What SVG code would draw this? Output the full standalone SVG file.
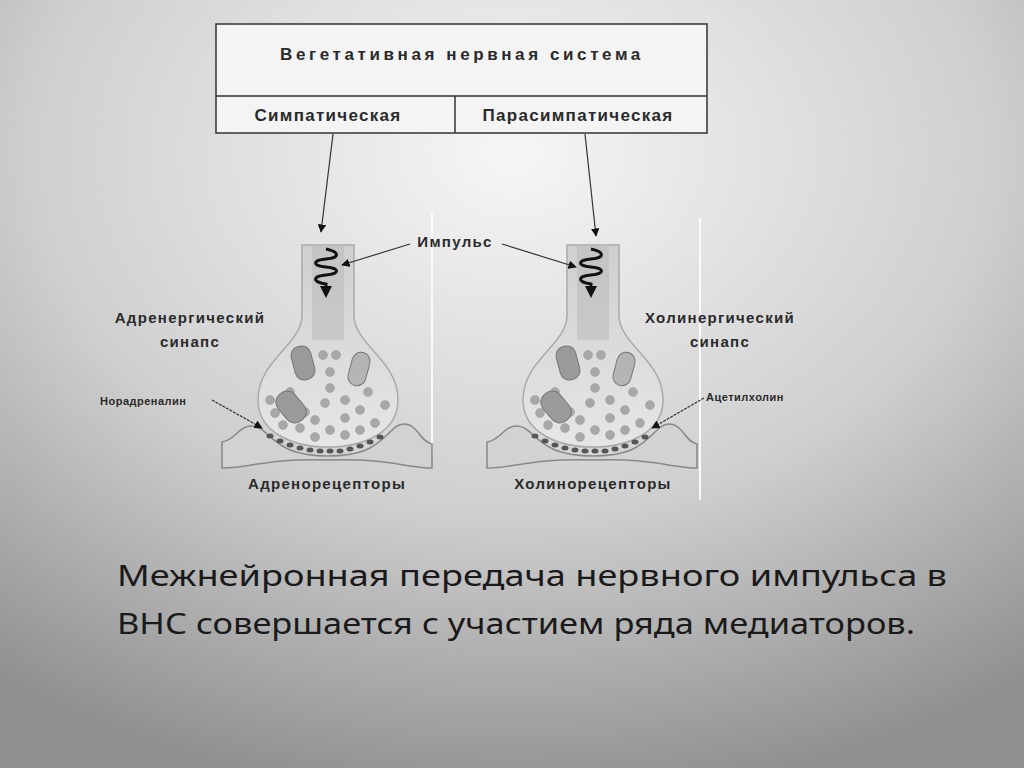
<svg xmlns="http://www.w3.org/2000/svg" xmlns:xlink="http://www.w3.org/1999/xlink" width="1024" height="768" viewBox="0 0 1024 768">
<defs>
<radialGradient id="bg" cx="0.5" cy="0.2" r="0.85">
<stop offset="0" stop-color="#f6f6f6"/><stop offset="0.55" stop-color="#cfcfcf"/><stop offset="1" stop-color="#8f8f8f"/>
</radialGradient>
<linearGradient id="bulb" x1="0" y1="0" x2="0" y2="1">
<stop offset="0" stop-color="#cfcfcf"/><stop offset="1" stop-color="#e6e6e6"/>
</linearGradient>
<marker id="ah" viewBox="0 0 10 10" refX="9" refY="5" markerWidth="7" markerHeight="7" orient="auto"><path d="M0,0 L10,5 L0,10 Z" fill="#111"/></marker>
<marker id="ah2" viewBox="0 0 10 10" refX="5" refY="5" markerWidth="4" markerHeight="4" orient="auto"><path d="M0,0 L10,5 L0,10 Z" fill="#111"/></marker>
<style>
.t{font-family:"Liberation Sans","DejaVu Sans",sans-serif;fill:#2a2a2a;font-weight:bold;letter-spacing:1.3px}
.ln{stroke:#333;stroke-width:1.2;fill:none}
.v{fill:#a8a8a8;stroke:#999;stroke-width:0.5}
.m{fill:#9a9a9a;stroke:#777;stroke-width:1}
</style>
<g id="syn">
<path d="M302,245 L302,315 C302,345 258,360 258,400 C258,432 292,447 328,447 C364,447 398,432 398,400 C398,360 354,345 354,315 L354,245 Z" fill="url(#bulb)" stroke="#aaa" stroke-width="1.5"/>
<rect x="312" y="245" width="32" height="95" fill="#bcbcbc" opacity="0.6"/>
<path d="M222,468 L222,442 C236,440 238,426 252,426 C264,426 268,440 290,450 C310,458 346,458 366,450 C388,440 392,424 404,424 C418,424 420,442 432,444 L432,468 C404,468 392,458 328,460 C264,458 252,468 222,468 Z" fill="#d2d2d2" stroke="#888" stroke-width="1.5"/>
<g fill="#555">
<ellipse cx="270" cy="436" rx="3.5" ry="2.5"/><ellipse cx="280" cy="441" rx="3.5" ry="2.5"/><ellipse cx="290" cy="445" rx="3.5" ry="2.5"/><ellipse cx="300" cy="448" rx="3.5" ry="2.5"/><ellipse cx="310" cy="450" rx="3.5" ry="2.5"/><ellipse cx="320" cy="451" rx="3.5" ry="2.5"/><ellipse cx="330" cy="451" rx="3.5" ry="2.5"/><ellipse cx="340" cy="451" rx="3.5" ry="2.5"/><ellipse cx="350" cy="449" rx="3.5" ry="2.5"/><ellipse cx="360" cy="446" rx="3.5" ry="2.5"/><ellipse cx="370" cy="442" rx="3.5" ry="2.5"/><ellipse cx="380" cy="437" rx="3.5" ry="2.5"/>
</g>
<g class="v">
<circle cx="323" cy="355" r="4.5"/><circle cx="336" cy="355" r="4.5"/><circle cx="330" cy="372" r="4.5"/><circle cx="330" cy="388" r="4.5"/><circle cx="345" cy="400" r="4.5"/><circle cx="325" cy="403" r="4.5"/><circle cx="290" cy="392" r="4.5"/><circle cx="270" cy="400" r="4.5"/><circle cx="275" cy="413" r="4.5"/><circle cx="283" cy="425" r="4.5"/><circle cx="300" cy="428" r="4.5"/><circle cx="315" cy="420" r="4.5"/><circle cx="330" cy="430" r="4.5"/><circle cx="345" cy="418" r="4.5"/><circle cx="360" cy="410" r="4.5"/><circle cx="368" cy="392" r="4.5"/><circle cx="375" cy="423" r="4.5"/><circle cx="360" cy="430" r="4.5"/><circle cx="385" cy="405" r="4.5"/><circle cx="305" cy="412" r="4.5"/><circle cx="345" cy="435" r="4.5"/><circle cx="315" cy="437" r="4.5"/>
</g>
<rect x="293" y="346" width="20" height="34" rx="9" class="m" transform="rotate(-15 303 363)"/>
<rect x="350" y="352" width="18" height="34" rx="9" class="m" transform="rotate(15 359 369)" fill-opacity="0.6"/>
<rect x="280" y="390" width="22" height="34" rx="10" class="m" transform="rotate(-40 291 407)"/>
<path d="M326,249 C340,252 340,258 326,259 C312,260 312,266 326,267 C340,268 340,274 326,275 C312,276 312,282 326,284 L326,292" fill="none" stroke="#111" stroke-width="3" marker-end="url(#ah2)"/>
</g>
</defs>
<rect width="1024" height="768" fill="url(#bg)"/>
<g id="header">
<rect x="216" y="24" width="491" height="109" fill="#f4f4f4" stroke="#333" stroke-width="1.5"/>
<line x1="216" y1="96" x2="707" y2="96" stroke="#333" stroke-width="1.5"/>
<line x1="455" y1="96" x2="455" y2="133" stroke="#333" stroke-width="1.5"/>
<text class="t" x="462" y="60" font-size="17" text-anchor="middle" style="letter-spacing:3.6px">Вегетативная нервная система</text>
<text class="t" x="328" y="121" font-size="17" text-anchor="middle">Симпатическая</text>
<text class="t" x="578" y="121" font-size="17" text-anchor="middle">Парасимпатическая</text>
</g>
<g id="left-synapse">
<line x1="432" y1="212" x2="432" y2="455" stroke="#fafafa" stroke-width="2"/>
<use xlink:href="#syn"/>
</g>
<g id="right-synapse">
<line x1="700" y1="218" x2="700" y2="500" stroke="#fafafa" stroke-width="2"/>
<use xlink:href="#syn" transform="translate(265,0)"/>
</g>
<g id="labels">
<text class="t" x="455" y="247" font-size="15" text-anchor="middle">Импульс</text>
<text class="t" x="190" y="323" font-size="15" text-anchor="middle">Адренергический</text>
<text class="t" x="190" y="347" font-size="15" text-anchor="middle">синапс</text>
<text class="t" x="720" y="323" font-size="15" text-anchor="middle">Холинергический</text>
<text class="t" x="720" y="347" font-size="15" text-anchor="middle">синапс</text>
<text class="t" x="100" y="405" font-size="11" style="letter-spacing:0.5px">Норадреналин</text>
<text class="t" x="706" y="401" font-size="11" style="letter-spacing:0.5px">Ацетилхолин</text>
<text class="t" x="327" y="489" font-size="15" text-anchor="middle">Адренорецепторы</text>
<text class="t" x="593" y="489" font-size="15" text-anchor="middle">Холинорецепторы</text>
</g>
<g id="connectors" class="ln">
<line x1="333" y1="134" x2="321" y2="232" marker-end="url(#ah)"/>
<line x1="585" y1="134" x2="596" y2="236" marker-end="url(#ah)"/>
<line x1="410" y1="244" x2="342" y2="265" marker-end="url(#ah)"/>
<line x1="502" y1="244" x2="576" y2="267" marker-end="url(#ah)"/>
<line x1="212" y1="400" x2="262" y2="428" stroke-dasharray="3,1" marker-end="url(#ah)"/>
<line x1="704" y1="398" x2="652" y2="428" stroke-dasharray="3,1" marker-end="url(#ah)"/>
</g>
<g id="caption" font-family="'Noto Sans','Open Sans',sans-serif" font-size="29" fill="#1a1a1a" style="white-space:pre">
<text x="117" y="586" textLength="830" lengthAdjust="spacingAndGlyphs">Межнейронная  передача нервного импульса в</text>
<text x="117" y="634" textLength="798" lengthAdjust="spacingAndGlyphs">ВНС совершается с участием ряда медиаторов.</text>
</g>
</svg>
